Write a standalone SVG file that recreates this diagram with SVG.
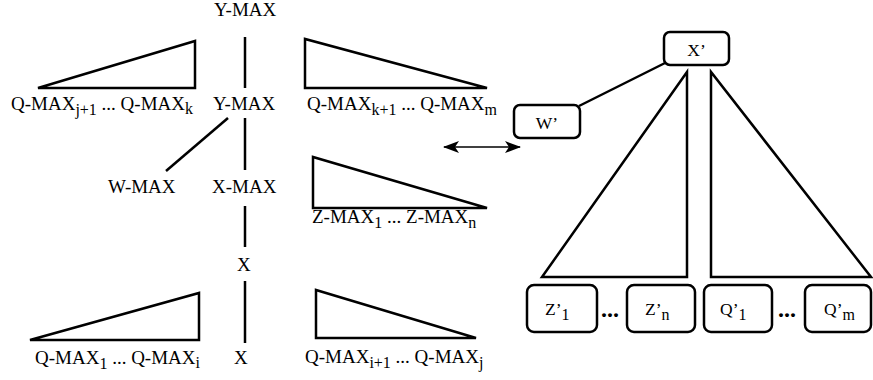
<svg xmlns="http://www.w3.org/2000/svg" width="873" height="380" viewBox="0 0 873 380">
<defs>
<style>
text{font-family:"Liberation Serif","Times New Roman",serif;font-size:19px;fill:#000}
.sub{font-size:16px}
.bl{font-size:17.5px}
.bl .sub{font-size:16px}
.sh{fill:none;stroke:#000;stroke-width:2.5;stroke-linejoin:miter}
.ln{fill:none;stroke:#000;stroke-width:2.5}
.box{fill:#fff;stroke:#000;stroke-width:2.5}
.dots{font-weight:bold;font-size:24px}
</style>
<marker id="ah" viewBox="0 0 16 12" refX="15" refY="6" markerWidth="16" markerHeight="12" markerUnits="userSpaceOnUse" orient="auto-start-reverse">
<path d="M0,0 L16,6 L0,12 L4,6 Z" fill="#000"/>
</marker>
</defs>
<rect width="873" height="380" fill="#fff"/>

<g id="connectors">
<line class="ln" x1="245" y1="37" x2="245" y2="88"/>
<line class="ln" x1="228" y1="118" x2="166" y2="171"/>
<line class="ln" x1="245" y1="118" x2="245" y2="170"/>
<line class="ln" x1="245" y1="206" x2="245" y2="247"/>
<line class="ln" x1="245" y1="281" x2="245" y2="343"/>
<line class="ln" x1="665" y1="63" x2="579" y2="106"/>
<line x1="444" y1="147" x2="520" y2="147" stroke="#000" stroke-width="1.5" marker-start="url(#ah)" marker-end="url(#ah)"/>
</g>

<g id="ymax-top"><text x="214" y="15.5">Y-MAX</text></g>
<g id="ymax-mid"><text x="213" y="110">Y-MAX</text></g>
<g id="wmax"><text x="108" y="193">W-MAX</text></g>
<g id="xmax"><text x="212" y="193">X-MAX</text></g>
<g id="x-mid"><text x="237" y="271">X</text></g>
<g id="x-bot"><text x="234" y="364">X</text></g>

<g id="tri-q-j1-k">
<polygon class="sh" points="38,88 195,41 195,88"/>
<text x="11" y="110">Q-MAX<tspan class="sub" dy="5">j+1</tspan><tspan dy="-5"> ... Q-MAX</tspan><tspan class="sub" dy="4">k</tspan></text>
</g>
<g id="tri-q-k1-m">
<polygon class="sh" points="305,39 305,88 487,88"/>
<text x="307" y="110">Q-MAX<tspan class="sub" dy="5">k+1</tspan><tspan dy="-5"> ... Q-MAX</tspan><tspan class="sub" dy="5">m</tspan></text>
</g>
<g id="tri-z">
<polygon class="sh" points="313,157 313,208 487,208"/>
<text x="312" y="223">Z-MAX<tspan class="sub" dy="5">1</tspan><tspan dy="-5"> ... Z-MAX</tspan><tspan class="sub" dy="5">n</tspan></text>
</g>
<g id="tri-q-1-i">
<polygon class="sh" points="30,340 199,293 199,340"/>
<text x="35" y="364">Q-MAX<tspan class="sub" dy="5">1</tspan><tspan dy="-5"> ... Q-MAX</tspan><tspan class="sub" dy="4">i</tspan></text>
</g>
<g id="tri-q-i1-j">
<polygon class="sh" points="316,290 316,338 476,338"/>
<text x="305" y="363">Q-MAX<tspan class="sub" dy="5">i+1</tspan><tspan dy="-5"> ... Q-MAX</tspan><tspan class="sub" dy="5">j</tspan></text>
</g>

<g id="xp">
<rect class="box" x="664" y="32" width="65" height="33" rx="6"/>
<text class="bl" x="696.5" y="56" text-anchor="middle">X’</text>
</g>
<g id="wp">
<rect class="box" x="514" y="105" width="66" height="33" rx="6"/>
<text class="bl" x="547" y="129" text-anchor="middle">W’</text>
</g>
<g id="tri-left-big">
<polygon class="sh" points="687,72 687,277 542,277"/>
</g>
<g id="tri-right-big">
<polygon class="sh" points="711,72 711,277 871,277"/>
</g>
<g id="zp1">
<rect class="box" x="527" y="285" width="70" height="47" rx="7"/>
<text class="bl" x="545" y="315">Z’<tspan class="sub" dy="5">1</tspan></text>
</g>
<g id="dots1"><text class="dots" x="601" y="317">...</text></g>
<g id="zpn">
<rect class="box" x="627" y="285" width="68" height="47" rx="7"/>
<text class="bl" x="645" y="315">Z’<tspan class="sub" dy="5">n</tspan></text>
</g>
<g id="qp1">
<rect class="box" x="704" y="285" width="68" height="47" rx="7"/>
<text class="bl" x="720" y="315">Q’<tspan class="sub" dy="5">1</tspan></text>
</g>
<g id="dots2"><text class="dots" x="778" y="317">...</text></g>
<g id="qpm">
<rect class="box" x="805" y="285" width="66" height="47" rx="7"/>
<text class="bl" x="824" y="315">Q’<tspan class="sub" dy="5">m</tspan></text>
</g>
</svg>
